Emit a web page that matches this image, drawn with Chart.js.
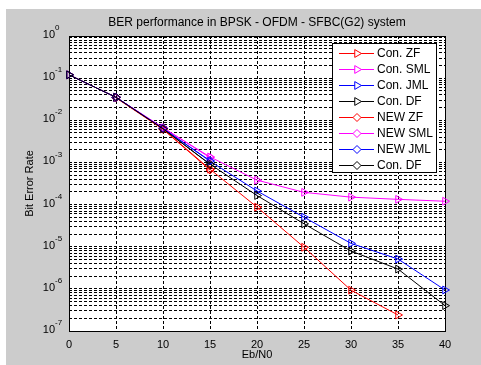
<!DOCTYPE html>
<html>
<head>
<meta charset="utf-8">
<script src="https://cdn.jsdelivr.net/npm/chart.js@4/dist/chart.umd.min.js"></script>
<style>
  html, body { margin: 0; padding: 0; background: #fff; }
  #wrap { position: absolute; left: 6px; top: 9px; width: 475px; height: 356px; background: #cccccc; }
</style>
</head>
<body>
<div id="wrap"><canvas id="ber" width="475" height="356"></canvas></div>
<script>
/* values */
const snr = [0, 5, 10, 15, 20, 25, 30, 35, 40];
const conZF  = [0.12, 0.035, 6.2e-3, 6.9e-4, 8.7e-5, 9.7e-6, 9.3e-7, 2.4e-7, null];
const conSML = [0.12, 0.035, 6.6e-3, 1.35e-3, 3.8e-4, 1.95e-4, 1.5e-4, 1.33e-4, 1.2e-4];
const conJML = [0.12, 0.035, 6.4e-3, 1.07e-3, 2.1e-4, 5.0e-5, 1.2e-5, 5.1e-6, 9.4e-7];
const conDF  = [0.12, 0.035, 6.3e-3, 9.1e-4, 1.64e-4, 3.5e-5, 7.9e-6, 2.95e-6, 4.0e-7];
const newZF  = [null, 0.034, 6.1e-3, 6.6e-4, null, null, null, null, null];
const newSML = [null, 0.035, 6.7e-3, 1.3e-3, null, null, null, null, null];
const newJML = [null, 0.035, 6.4e-3, 1.1e-3, null, null, null, null, null];
const newDF  = [null, 0.035, 6.3e-3, 9.0e-4, null, null, null, null, null];

const decadeExp = [0, -1, -2, -3, -4, -5, -6, -7];

const FONT = "'Liberation Sans', Arial, Helvetica, sans-serif";

// grid values 1..9 x 10^k between 1e-7 and 1
const gridVals = [];
decadeExp.forEach((e) => {
  if (e === 0) { gridVals.push(1); return; }
  for (let m = 1; m <= 9; m++) gridVals.push(m * Math.pow(10, e));
});

function series(label, data, color, marker) {
  return {
    label, data,
    borderColor: color,
    borderWidth: 1,
    pointStyle: marker === "tri" ? "triangle" : "rectRot",
    rotation: marker === "tri" ? 90 : 0,
    pointRadius: marker === "tri" ? 4.5 : 4,
    pointBorderColor: color,
    pointBackgroundColor: "rgba(0,0,0,0)",
    pointBorderWidth: 1,
    spanGaps: false,
    clip: false,
    fill: false,
    tension: 0,
  };
}

const datasets = [
  series("Con. ZF", conZF, "#ff0000", "tri"),
  series("Con. SML", conSML, "#ff00ff", "tri"),
  series("Con. JML", conJML, "#0000ff", "tri"),
  series("Con. DF", conDF, "#000000", "tri"),
  series("NEW ZF", newZF, "#ff0000", "dia"),
  series("NEW SML", newSML, "#ff00ff", "dia"),
  series("NEW JML", newJML, "#0000ff", "dia"),
  series("Con. DF", newDF, "#000000", "dia"),
];
// later series drawn on top
datasets.forEach((d, i) => (d.order = -i));

const matlabLook = {
  id: "matlabLook",
  beforeDraw(chart) {
    const { ctx, chartArea: a } = chart;
    ctx.save();
    ctx.fillStyle = "#ffffff";
    ctx.fillRect(a.left, a.top, a.right - a.left, a.bottom - a.top);
    ctx.restore();
  },
  beforeDatasetsDraw(chart) {
    const { ctx, chartArea: a } = chart;
    ctx.save();
    ctx.strokeStyle = "#000";
    ctx.lineWidth = 1;
    ctx.strokeRect(Math.round(a.left) + 0.5, Math.round(a.top) + 0.5,
      Math.round(a.right - a.left), Math.round(a.bottom - a.top));
    ctx.restore();
  },
  afterDraw(chart) {
    const { ctx, chartArea: a, scales } = chart;
    const cx = (a.left + a.right) / 2;
    ctx.save();
    ctx.fillStyle = "#000";
    ctx.textAlign = "center";
    ctx.textBaseline = "middle";
    ctx.font = "12px " + FONT;
    ctx.fillText("BER performance in BPSK - OFDM - SFBC(G2) system", cx, 14);
    ctx.font = "11px " + FONT;
    ctx.fillText("Eb/N0", cx, 346);
    ctx.save();
    ctx.translate(24, (a.top + a.bottom) / 2);
    ctx.rotate(-Math.PI / 2);
    ctx.fillText("Bit Error Rate", 0, 0);
    ctx.restore();

    // y decade labels 10^k
    decadeExp.forEach((e) => {
      const y = scales.y.getPixelForValue(Math.pow(10, e));
      ctx.font = "11px " + FONT;
      ctx.textAlign = "right";
      ctx.fillText("10", a.left - 14, y - 1);
      ctx.font = "8px " + FONT;
      ctx.textAlign = "left";
      ctx.fillText(String(e), a.left - 14, y - 8);
    });

    // legend box
    const lx = 326, ly = 34, lw = 104, lh = 129;
    ctx.fillStyle = "#fff";
    ctx.fillRect(lx, ly, lw, lh);
    ctx.strokeStyle = "#000";
    ctx.lineWidth = 1;
    ctx.strokeRect(lx + 0.5, ly + 0.5, lw, lh);
    ctx.font = "12px " + FONT;
    ctx.textAlign = "left";
    ctx.textBaseline = "middle";
    chart.data.datasets.forEach((d, i) => {
      const y = ly + 10 + i * 16 + 0.5;
      ctx.strokeStyle = d.borderColor;
      ctx.lineWidth = 1;
      ctx.beginPath();
      ctx.moveTo(lx + 7, y);
      ctx.lineTo(lx + 42, y);
      ctx.stroke();
      ctx.fillStyle = "#ffffff";
      Chart.helpers.drawPoint(ctx, {
        pointStyle: d.pointStyle, rotation: d.rotation, radius: d.pointRadius, borderWidth: 1,
      }, lx + 25, y);
      ctx.fillStyle = "#000";
      ctx.fillText(d.label, lx + 45, y);
    });
    ctx.restore();
  },
};

new Chart(document.getElementById("ber"), {
  type: "line",
  data: { labels: snr, datasets: datasets.map((d) => ({ ...d, data: d.data.map((v, i) => ({ x: snr[i], y: v })) })) },
  options: {
    responsive: false,
    animation: false,
    events: [],
    layout: { padding: { left: 0, right: 36, top: 27, bottom: 0 } },
    plugins: { legend: { display: false }, tooltip: { enabled: false }, title: { display: false } },
    scales: {
      x: {
        type: "linear",
        min: 0, max: 40,
        ticks: { stepSize: 5, color: "#000", font: { size: 11, family: FONT }, padding: 7, maxRotation: 0 },
        grid: { color: "#000", lineWidth: 1, drawTicks: false },
        border: { display: false, dash: [3, 2] },
        afterFit(s) { s.height = 34; },
      },
      y: {
        type: "logarithmic",
        min: 1e-7, max: 1,
        ticks: { display: false },
        grid: { color: "#000", lineWidth: 1, drawTicks: false },
        border: { display: false, dash: [3, 2] },
        afterBuildTicks(s) { s.ticks = gridVals.map((v) => ({ value: v })); },
        afterFit(s) { s.width = 63; },
      },
    },
  },
  plugins: [matlabLook],
});
</script>
</body>
</html>
